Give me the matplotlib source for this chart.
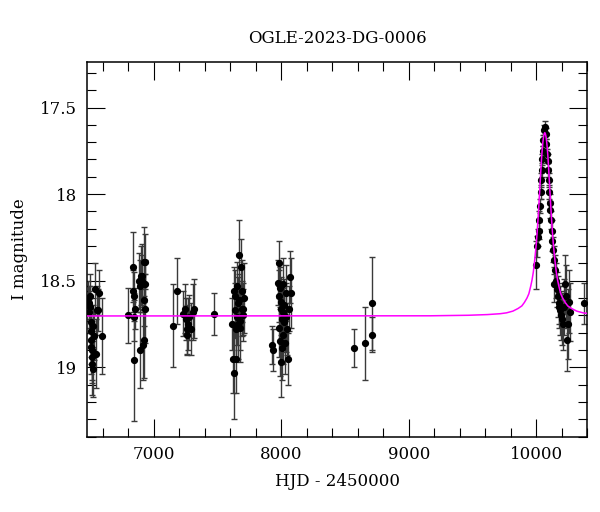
import matplotlib
matplotlib.use("Agg")
import matplotlib.pyplot as plt
from matplotlib.ticker import MultipleLocator, FuncFormatter

plt.rcParams['font.family'] = ['DejaVu Serif']

# --- OGLE I-band photometry ---
# season 2013
hjd = [6488, 6493, 6496, 6500, 6503, 6505, 6508, 6510, 6512, 6515, 6517, 6520, 6522, 6525, 6530,
       6540, 6545, 6552, 6561, 6571, 6592]
mag = [18.60, 18.68, 18.63, 18.59, 18.65, 18.74, 18.79, 18.84, 18.88, 18.90, 18.94, 18.98, 19.01, 18.76, 18.82,
       18.55, 18.92, 18.67, 18.67, 18.57, 18.82]
err = [0.10, 0.12, 0.10, 0.13, 0.12, 0.14, 0.15, 0.14, 0.16, 0.17, 0.15, 0.18, 0.16, 0.12, 0.14,
       0.15, 0.20, 0.14, 0.12, 0.13, 0.22]
# season 2014
hjd += [6796, 6835, 6838, 6842, 6845, 6848, 6855, 6885, 6890, 6893, 6898, 6905, 6910, 6918, 6922,
        6927, 6932, 6935, 6925, 6930]
mag += [18.70, 18.42, 18.56, 18.59, 18.71, 18.96, 18.66, 18.50, 18.53, 18.90, 18.47, 18.47, 18.50, 18.87, 18.84,
        18.39, 18.39, 18.52, 18.61, 18.66]
err += [0.16, 0.20, 0.12, 0.14, 0.14, 0.35, 0.12, 0.16, 0.15, 0.22, 0.17, 0.18, 0.15, 0.20, 0.22,
        0.20, 0.16, 0.14, 0.15, 0.20]
# season 2015
hjd += [7149, 7180, 7233, 7246, 7254, 7259, 7264, 7272, 7280, 7293, 7311, 7316, 7476]
mag += [18.76, 18.56, 18.69, 18.66, 18.72, 18.78, 18.81, 18.75, 18.71, 18.78, 18.68, 18.66, 18.69]
err += [0.24, 0.19, 0.13, 0.14, 0.12, 0.14, 0.12, 0.15, 0.13, 0.15, 0.16, 0.17, 0.12]
# season 2016
hjd += [7615, 7622, 7628, 7632, 7636, 7640, 7645, 7648, 7650, 7655, 7660, 7663, 7667, 7670, 7673,
        7678, 7685, 7690, 7695, 7698, 7700, 7705]
mag += [18.75, 18.95, 18.56, 19.03, 18.67, 18.59, 18.95, 18.78, 18.53, 18.71, 18.63, 18.75, 18.35, 18.61, 18.73,
        18.77, 18.42, 18.66, 18.56, 18.66, 18.70, 18.60]
err += [0.15, 0.20, 0.14, 0.27, 0.16, 0.15, 0.20, 0.18, 0.14, 0.16, 0.15, 0.20, 0.20, 0.15, 0.17,
        0.20, 0.16, 0.16, 0.18, 0.15, 0.15, 0.20]
# season 2017
hjd += [7931, 7934, 7976, 7980, 7983, 7986, 7990, 7992, 7995, 7998, 8000, 8003, 8005, 8010, 8012,
        8015, 8020, 8025, 8030, 8035, 8040, 8045, 8050, 8058, 8070, 8073]
mag += [18.87, 18.90, 18.51, 18.59, 18.40, 18.77, 18.85, 18.54, 18.66, 18.97, 18.62, 18.89, 18.72, 18.52, 18.81,
        18.68, 18.74, 18.64, 18.86, 18.57, 18.71, 18.78, 18.95, 18.66, 18.48, 18.57]
err += [0.11, 0.12, 0.13, 0.15, 0.13, 0.17, 0.20, 0.12, 0.15, 0.20, 0.14, 0.18, 0.16, 0.15, 0.17,
        0.14, 0.16, 0.15, 0.18, 0.16, 0.20, 0.15, 0.15, 0.13, 0.15, 0.20]
# seasons 2018-2019
hjd += [8569, 8653, 8708, 8710]
mag += [18.886, 18.86, 18.63, 18.81]
err += [0.11, 0.21, 0.27, 0.10]
# event season 2023
hjd += [10000, 10005, 10010, 10018, 10024, 10028, 10033, 10038, 10042, 10046, 10050, 10055, 10060, 10066,
        10072, 10078, 10084, 10090, 10094, 10098, 10102, 10106, 10110, 10114, 10120, 10126, 10132, 10138,
        10145, 10136, 10155, 10162, 10168, 10175, 10180, 10186, 10190, 10198, 10206, 10214, 10225, 10232,
        10240, 10246, 10252, 10260, 10376]
mag += [18.41, 18.30, 18.25, 18.21, 18.15, 18.07, 17.99, 17.92, 17.86, 17.80, 17.75, 17.69, 17.63, 17.61,
        17.65, 17.71, 17.77, 17.81, 17.86, 17.92, 17.99, 18.05, 18.09, 18.15, 18.21, 18.27, 18.32, 18.38,
        18.44, 18.52, 18.50, 18.55, 18.59, 18.63, 18.65, 18.67, 18.70, 18.72, 18.75, 18.65, 18.52, 18.59,
        18.84, 18.75, 18.62, 18.68, 18.63]
err += [0.14, 0.06, 0.05, 0.05, 0.05, 0.04, 0.04, 0.04, 0.04, 0.03, 0.03, 0.03, 0.03, 0.03,
        0.03, 0.03, 0.03, 0.04, 0.04, 0.04, 0.04, 0.05, 0.05, 0.05, 0.06, 0.06, 0.07, 0.08,
        0.09, 0.10, 0.10, 0.10, 0.12, 0.12, 0.12, 0.14, 0.14, 0.15, 0.15, 0.16, 0.17, 0.18,
        0.18, 0.20, 0.18, 0.17, 0.12]

# --- model curve (magenta) ---
model_hjd = [6400, 9166, 9466, 9616, 9716, 9766, 9816, 9856, 9886, 9906, 9926, 9941, 9956, 9966,
             9976, 9984, 9991, 9999, 10006, 10011, 10016, 10021, 10026, 10031, 10036, 10041, 10046,
             10051, 10056, 10061, 10066, 10071, 10076, 10081, 10086, 10091, 10096, 10101, 10106,
             10111, 10116, 10121, 10126, 10133, 10141, 10148, 10156, 10166, 10176, 10191, 10206,
             10226, 10246, 10276, 10316, 10366, 10416, 10500]
model_mag = [18.703, 18.702, 18.699, 18.695, 18.69, 18.685, 18.675, 18.66, 18.645, 18.625, 18.60,
             18.575, 18.53, 18.495, 18.45, 18.40, 18.35, 18.29, 18.22, 18.165, 18.11, 18.045, 17.98,
             17.915, 17.85, 17.79, 17.74, 17.70, 17.67, 17.652, 17.645, 17.652, 17.67, 17.70, 17.74,
             17.79, 17.85, 17.915, 17.98, 18.045, 18.11, 18.165, 18.22, 18.29, 18.35, 18.40, 18.45,
             18.495, 18.53, 18.575, 18.60, 18.625, 18.645, 18.66, 18.675, 18.685, 18.69, 18.695]

fig = plt.figure(figsize=(6.0, 5.12), dpi=100)
ax = fig.add_axes([0.145, 0.147, 0.834, 0.731])

ax.errorbar(hjd, mag, yerr=err, fmt='o', color='black', ms=4.2, ecolor='#3a3a3a',
            elinewidth=1.0, capsize=2.5, capthick=1.0, zorder=2)
ax.plot(model_hjd, model_mag, color='#ff00ff', lw=1.1, zorder=3)

ax.set_xlim(6477, 10400)
ax.set_ylim(19.4, 17.24)

ax.xaxis.set_major_locator(MultipleLocator(1000))
ax.xaxis.set_minor_locator(MultipleLocator(200))
ax.yaxis.set_major_locator(MultipleLocator(0.5))
ax.yaxis.set_minor_locator(MultipleLocator(0.1))
ax.yaxis.set_major_formatter(FuncFormatter(lambda v, p: f"{v:g}"))
ax.tick_params(which='both', direction='in', top=True, right=True, width=0.8, labelsize=12)
ax.tick_params(which='major', length=13, pad=7)
ax.tick_params(which='minor', length=6.5)
for s in ax.spines.values():
    s.set_linewidth(1.1)

ax.set_xlabel("HJD - 2450000", fontsize=12, labelpad=7)
ax.set_ylabel("I magnitude", fontsize=12, labelpad=9)
ax.set_title("OGLE-2023-DG-0006", fontsize=12, pad=14)

fig.savefig("out.png", dpi=100)
